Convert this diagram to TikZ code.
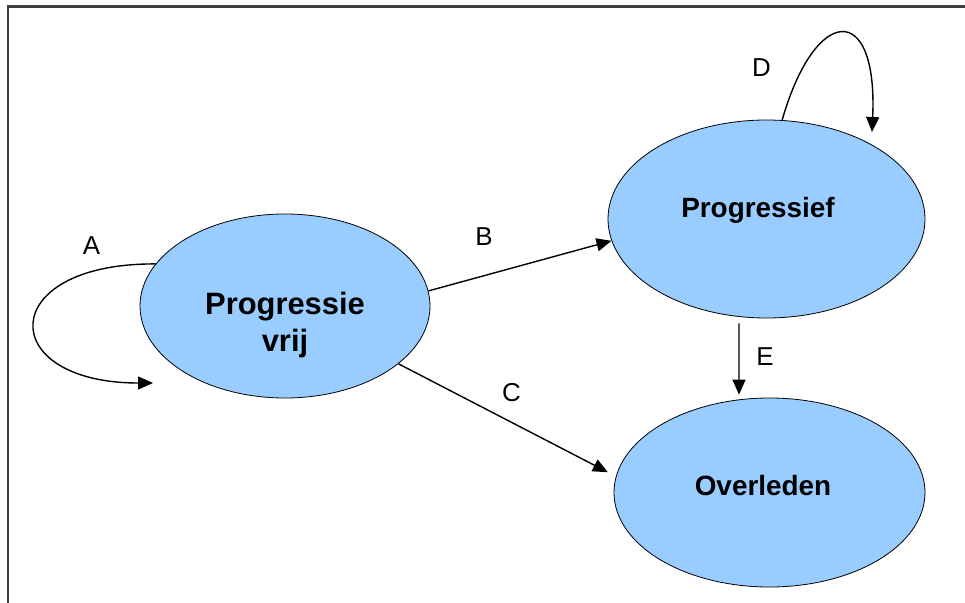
\documentclass[tikz,border=0pt]{standalone}
\usepackage{fontspec}
\setmainfont{Liberation Sans}
\usepackage{xcolor}
\usetikzlibrary{positioning,arrows.meta,shapes.geometric,calc}
\definecolor{stateblue}{HTML}{99CCFF}
\definecolor{framegray}{HTML}{404040}
\tikzset{
  state/.style={draw=black, line width=0.8pt, fill=stateblue, ellipse, inner sep=0pt},
  statetxt/.style={font=\fontsize{28}{34}\selectfont\bfseries, align=center, inner sep=0pt},
  flow/.style={-{Triangle[length=15bp, width=13bp]}, line width=1.4pt},
  lbl/.style={font=\fontsize{26}{30}\selectfont, inner sep=0pt},
}

\begin{document}
\begin{tikzpicture}[x=1bp, y=-1bp]
  \useasboundingbox (0,0) rectangle (965,603);
  % frame (right and bottom edges lie outside the picture)
  \draw[framegray, line width=2.5bp] (8,603) -- (8,6.5) -- (965,6.5);
  % states
  \node[state, minimum width=290bp, minimum height=184bp] (pv) at (285,306) {};
  \node[state, minimum width=317bp, minimum height=198bp] (pf) at (766.5,219) {};
  \node[state, minimum width=311bp, minimum height=189bp] (ov) at (769.5,492.5) {};
  \node[statetxt, font=\fontsize{31}{37}\selectfont\bfseries] (pvtxt) at (285,325) {Progressie\\vrij};
  \node[statetxt, anchor=base] (pftxt) at (758,217.3) {Progressief};
  \node[statetxt, anchor=base] (ovtxt) at (763,495) {Overleden};
  % loose ends of the self loops
  \coordinate (aend) at (153,383);
  \coordinate (dend) at (872,132);
  % transitions
  \draw[flow] (pv.162) .. controls (-5,263) and (-5,383) .. (aend);
  \draw[flow] (pv.6) -- (pf.188);
  \draw[flow, shorten >=9bp] (pv.-27) -- (ov.174);
  \draw[flow] (pf.81) .. controls (815,5) and (878,0) .. (dend);
  \draw[flow] ([xshift=-27.5bp, yshift=-5bp]pf.south) -- ([xshift=-30.5bp, yshift=3bp]ov.north);
  % labels
  \node[lbl] (la) at (91.5,246) {A};
  \node[lbl] (lb) at (484,236.5) {B};
  \node[lbl] (lc) at (511.5,393) {C};
  \node[lbl] (ld) at (761.5,68) {D};
  \node[lbl] (le) at (765,357) {E};
\end{tikzpicture}
\end{document}
